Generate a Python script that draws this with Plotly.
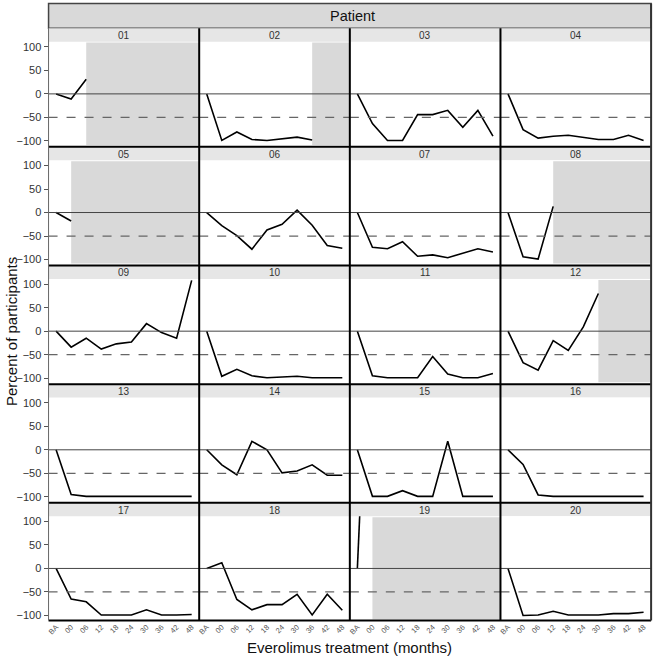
import plotly.graph_objects as go

months = ["BA", "00", "06", "12", "18", "24", "30", "36", "42", "48"]
patient_ids = ["01", "02", "03", "04", "05", "06", "07", "08", "09", "10",
               "11", "12", "13", "14", "15", "16", "17", "18", "19", "20"]

p01 = [0, -11, 31]
p02 = [0, -99, -81, -97, -99, -95, -92, -98]
p03 = [0, -63, -99, -99, -44, -44, -35, -71, -35, -90]
p04 = [0, -76, -94, -90, -88, -93, -97, -97, -88, -99]
p05 = [0, -18]
p06 = [0, -28, -49, -78, -37, -25, 5, -27, -70, -76]
p07 = [0, -74, -77, -62, -93, -90, -96, -87, -77, -84]
p08 = [0, -94, -99, 13]
p09 = [0, -34, -15, -38, -27, -23, 16, -3, -15, 108]
p10 = [0, -96, -81, -95, -99, -98, -96, -99, -99, -99]
p11 = [0, -95, -99, -99, -99, -54, -91, -99, -99, -90]
p12 = [0, -67, -83, -20, -41, 9, 80]
p13 = [0, -95, -99, -99, -99, -99, -99, -99, -99, -99]
p14 = [0, -32, -53, 18, 0, -49, -45, -32, -54, -54]
p15 = [0, -99, -99, -87, -99, -99, 18, -99, -99, -99]
p16 = [0, -31, -96, -99, -99, -99, -99, -99, -99, -99]
p17 = [0, -65, -71, -99, -99, -99, -88, -99, -99, -98]
p18 = [0, 12, -66, -88, -77, -77, -55, -99, -55, -89]
p19 = [0, 720]
p20 = [0, -100, -99, -91, -99, -99, -99, -96, -96, -93]

series = [p01, p02, p03, p04, p05, p06, p07, p08, p09, p10,
          p11, p12, p13, p14, p15, p16, p17, p18, p19, p20]

y_ticks = [-100, -50, 0, 50, 100]
y_range = [-110.5, 111]
threshold = -50

W, H = 653, 659
FONT = "Liberation Sans, Arial, sans-serif"

left0 = 46.7
col_w = 151.1
header_top, header_bot = 2.5, 27.3
row_h = 119.0
strip_h = 13.5
panel_h = 104.5


def fx(px):
    return px / W


def fy(px):
    return 1 - px / H


fig = go.Figure()
layout = dict(
    width=W, height=H,
    margin=dict(l=0, r=0, t=0, b=0),
    paper_bgcolor="white", plot_bgcolor="white",
    showlegend=False,
    font=dict(family=FONT, color="#222"),
)
shapes = []
annotations = []

# header strip
shapes.append(dict(type="rect", xref="paper", yref="paper",
                   x0=fx(left0), x1=fx(left0 + 4 * col_w),
                   y0=fy(header_bot), y1=fy(header_top),
                   fillcolor="#d9d9d9", line=dict(color="#444", width=1.5), layer="below"))
annotations.append(dict(text="Patient", xref="paper", yref="paper",
                        x=fx(left0 + 2 * col_w + 3), y=fy((header_top + header_bot) / 2),
                        showarrow=False, font=dict(size=14.5, color="#111", family=FONT),
                        xanchor="center", yanchor="middle"))

for i, (pid, vals) in enumerate(zip(patient_ids, series)):
    r, c = divmod(i, 4)
    n = i + 1
    xa = "xaxis" if n == 1 else f"xaxis{n}"
    ya = "yaxis" if n == 1 else f"yaxis{n}"
    xr = "x" if n == 1 else f"x{n}"
    yr = "y" if n == 1 else f"y{n}"
    xl = left0 + c * col_w
    xrgt = xl + col_w
    stop = header_bot + r * row_h
    ptop = stop + strip_h
    pbot = ptop + panel_h

    layout[xa] = dict(domain=[fx(xl), fx(xrgt)], anchor=yr, type="category",
                      categoryorder="array", categoryarray=months,
                      range=[-0.5, 9.5], showgrid=False, zeroline=False,
                      showline=False, showticklabels=(r == 4),
                      tickangle=-45, tickfont=dict(size=7.5, color="#555", family=FONT),
                      ticks="", fixedrange=True)
    layout[ya] = dict(domain=[fy(pbot), fy(ptop)], anchor=xr,
                      range=y_range, tickvals=y_ticks, showgrid=False, zeroline=False,
                      showline=False, showticklabels=(c == 0),
                      ticks="outside" if c == 0 else "", ticklen=4, tickcolor="#555",
                      tickfont=dict(size=11, color="#333", family=FONT), fixedrange=True)

    # strip
    shapes.append(dict(type="rect", xref="paper", yref="paper",
                       x0=fx(xl), x1=fx(xrgt), y0=fy(ptop), y1=fy(stop),
                       fillcolor="#e6e6e6", line=dict(width=0), layer="below"))
    annotations.append(dict(text=pid, xref="paper", yref="paper",
                            x=fx((xl + xrgt) / 2), y=fy((stop + ptop) / 2 + 0.5),
                            showarrow=False, font=dict(size=10, color="#333", family=FONT),
                            xanchor="center", yanchor="middle"))

    # dropout shading
    if len(vals) < len(months):
        shapes.append(dict(type="rect", xref=xr, yref=yr,
                           x0=len(vals) - 1, x1=9.5, y0=-108.5, y1=109,
                           fillcolor="#d9d9d9", line=dict(width=0), layer="below"))

    # reference lines
    shapes.append(dict(type="line", xref=f"{xr} domain", yref=yr, x0=0, x1=1, y0=0, y1=0,
                       line=dict(color="#444", width=1)))
    shapes.append(dict(type="line", xref=f"{xr} domain", yref=yr, x0=0, x1=1,
                       y0=threshold, y1=threshold,
                       line=dict(color="#666", width=1.2, dash="dash")))

    fig.add_trace(go.Scatter(x=months[:len(vals)], y=vals, mode="lines",
                             line=dict(color="black", width=1.6),
                             xaxis=xr, yaxis=yr, hoverinfo="skip"))

# panel borders
bottom_px = header_bot + 4 * row_h + strip_h + panel_h
for c in range(1, 4):
    xpx = left0 + c * col_w
    shapes.append(dict(type="line", xref="paper", yref="paper",
                       x0=fx(xpx), x1=fx(xpx), y0=fy(bottom_px), y1=fy(header_bot),
                       line=dict(color="black", width=2)))
for r in range(1, 5):
    ypx = header_bot + r * row_h
    shapes.append(dict(type="line", xref="paper", yref="paper",
                       x0=fx(left0), x1=fx(left0 + 4 * col_w), y0=fy(ypx), y1=fy(ypx),
                       line=dict(color="black", width=2)))
shapes.append(dict(type="line", xref="paper", yref="paper",
                   x0=fx(left0), x1=fx(left0 + 4 * col_w), y0=fy(bottom_px), y1=fy(bottom_px),
                   line=dict(color="black", width=2)))
shapes.append(dict(type="line", xref="paper", yref="paper",
                   x0=fx(left0), x1=fx(left0), y0=fy(bottom_px), y1=fy(header_bot),
                   line=dict(color="#666", width=1)))
shapes.append(dict(type="line", xref="paper", yref="paper",
                   x0=fx(left0 + 4 * col_w), x1=fx(left0 + 4 * col_w),
                   y0=fy(bottom_px), y1=fy(header_top),
                   line=dict(color="#333", width=2)))

# axis titles
annotations.append(dict(text="Percent of participants", xref="paper", yref="paper",
                        x=fx(9), y=fy((header_bot + strip_h + bottom_px) / 2),
                        textangle=-90, showarrow=False,
                        font=dict(size=15, color="#111", family=FONT),
                        xanchor="center", yanchor="middle"))
annotations.append(dict(text="Everolimus treatment (months)", xref="paper", yref="paper",
                        x=fx(left0 + 2 * col_w), y=fy(648),
                        showarrow=False, font=dict(size=15, color="#111", family=FONT),
                        xanchor="center", yanchor="middle"))

layout["shapes"] = shapes
layout["annotations"] = annotations
fig.update_layout(**layout)
# remove the browser's default page margin so the figure fills the window exactly
fig.write_html("out.html",
               config={"displayModeBar": False},
               post_script="document.body.style.margin='0';document.body.style.overflow='hidden';")
